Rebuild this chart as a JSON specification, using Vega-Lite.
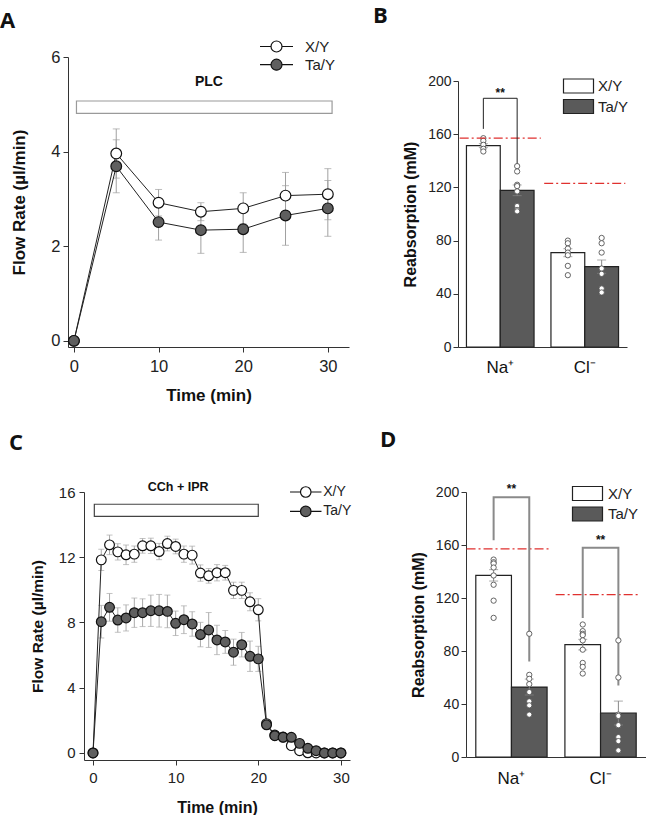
{
"$schema": "https://vega.github.io/schema/vega-lite/v6.json",
"background": "white",
"padding": {"left": 0, "top": 5, "right": 0, "bottom": 0},
"config": {
  "view": {"stroke": null},
  "font": "Liberation Sans",
  "axis": {"grid": false, "domainColor": "#333", "tickColor": "#333", "labelColor": "#222", "titleColor": "#111", "labelFont": "Liberation Sans", "titleFont": "Liberation Sans", "titleFontWeight": "bold", "tickSize": 5},
  "title": {"font": "Open Sans", "fontSize": 22, "fontWeight": "bold", "color": "#111", "anchor": "start", "frame": "group"},
  "legend": {"labelFont": "Liberation Sans", "labelColor": "#222", "padding": 0, "symbolOpacity": 1}
},
"datasets": {
  "aSeries": [
    {"group":"X/Y","t":0,"v":0,"err":0},{"group":"X/Y","t":5,"v":3.96,"err":0.52},{"group":"X/Y","t":10,"v":2.92,"err":0.28},{"group":"X/Y","t":15,"v":2.73,"err":0.19},{"group":"X/Y","t":20,"v":2.8,"err":0.33},{"group":"X/Y","t":25,"v":3.07,"err":0.49},{"group":"X/Y","t":30,"v":3.1,"err":0.54},
    {"group":"Ta/Y","t":0,"v":0,"err":0},{"group":"Ta/Y","t":5,"v":3.69,"err":0.56},{"group":"Ta/Y","t":10,"v":2.51,"err":0.38},{"group":"Ta/Y","t":15,"v":2.34,"err":0.49},{"group":"Ta/Y","t":20,"v":2.36,"err":0.49},{"group":"Ta/Y","t":25,"v":2.65,"err":0.63},{"group":"Ta/Y","t":30,"v":2.8,"err":0.59}
  ],
  "aBox": [{"t":0.3,"t2":30.5,"v":4.81,"v2":5.07}],
  "aLabel": [{"t":15.95,"v":5.47,"label":"PLC"}],
  "cSeries": [
    {"group":"X/Y","t":0,"v":0,"err":0},{"group":"X/Y","t":1,"v":11.84,"err":0.65},{"group":"X/Y","t":2,"v":12.76,"err":0.6},{"group":"X/Y","t":3,"v":12.33,"err":0.5},{"group":"X/Y","t":4,"v":12.15,"err":0.6},{"group":"X/Y","t":5,"v":12.19,"err":0.5},{"group":"X/Y","t":6,"v":12.7,"err":0.45},{"group":"X/Y","t":7,"v":12.7,"err":0.47},{"group":"X/Y","t":8,"v":12.35,"err":0.5},{"group":"X/Y","t":9,"v":12.84,"err":0.45},{"group":"X/Y","t":10,"v":12.66,"err":0.45},{"group":"X/Y","t":11,"v":12.19,"err":0.5},{"group":"X/Y","t":12,"v":12.13,"err":0.55},{"group":"X/Y","t":13,"v":11.03,"err":0.5},{"group":"X/Y","t":14,"v":10.86,"err":0.45},{"group":"X/Y","t":15,"v":11.05,"err":0.5},{"group":"X/Y","t":16,"v":11.05,"err":0.45},{"group":"X/Y","t":17,"v":9.97,"err":0.5},{"group":"X/Y","t":18,"v":9.97,"err":0.5},{"group":"X/Y","t":19,"v":9.27,"err":0.55},{"group":"X/Y","t":20,"v":8.78,"err":0.68},{"group":"X/Y","t":21,"v":1.8,"err":0.2},{"group":"X/Y","t":22,"v":1.1,"err":0.15},{"group":"X/Y","t":23,"v":0.98,"err":0.15},{"group":"X/Y","t":24,"v":0.45,"err":0.1},{"group":"X/Y","t":25,"v":0.14,"err":0.05},{"group":"X/Y","t":26,"v":0.01,"err":0},{"group":"X/Y","t":27,"v":0,"err":0},{"group":"X/Y","t":28,"v":0,"err":0},{"group":"X/Y","t":29,"v":0,"err":0},{"group":"X/Y","t":30,"v":0,"err":0},
    {"group":"Ta/Y","t":0,"v":0,"err":0},{"group":"Ta/Y","t":1,"v":8.05,"err":1.0},{"group":"Ta/Y","t":2,"v":8.93,"err":0.85},{"group":"Ta/Y","t":3,"v":8.15,"err":0.75},{"group":"Ta/Y","t":4,"v":8.28,"err":0.8},{"group":"Ta/Y","t":5,"v":8.6,"err":0.9},{"group":"Ta/Y","t":6,"v":8.6,"err":0.85},{"group":"Ta/Y","t":7,"v":8.72,"err":0.96},{"group":"Ta/Y","t":8,"v":8.72,"err":1.0},{"group":"Ta/Y","t":9,"v":8.68,"err":1.0},{"group":"Ta/Y","t":10,"v":7.95,"err":0.75},{"group":"Ta/Y","t":11,"v":8.17,"err":0.85},{"group":"Ta/Y","t":12,"v":7.91,"err":0.75},{"group":"Ta/Y","t":13,"v":7.26,"err":0.75},{"group":"Ta/Y","t":14,"v":7.54,"err":1.07},{"group":"Ta/Y","t":15,"v":6.93,"err":0.9},{"group":"Ta/Y","t":16,"v":6.81,"err":0.7},{"group":"Ta/Y","t":17,"v":6.18,"err":0.8},{"group":"Ta/Y","t":18,"v":6.64,"err":0.75},{"group":"Ta/Y","t":19,"v":5.93,"err":0.93},{"group":"Ta/Y","t":20,"v":5.77,"err":0.77},{"group":"Ta/Y","t":21,"v":1.73,"err":0.2},{"group":"Ta/Y","t":22,"v":1.06,"err":0.2},{"group":"Ta/Y","t":23,"v":0.96,"err":0.15},{"group":"Ta/Y","t":24,"v":0.96,"err":0.15},{"group":"Ta/Y","t":25,"v":0.59,"err":0.2},{"group":"Ta/Y","t":26,"v":0.29,"err":0.15},{"group":"Ta/Y","t":27,"v":0.14,"err":0.1},{"group":"Ta/Y","t":28,"v":0,"err":0},{"group":"Ta/Y","t":29,"v":0,"err":0},{"group":"Ta/Y","t":30,"v":0,"err":0}
  ],
  "cBox": [{"t":0.16,"t2":20,"v":14.51,"v2":15.25}],
  "cLabel": [{"t":10.3,"v":16.3,"label":"CCh + IPR"}],
  "bBars": [
    {"ion":"Na⁺","group":"X/Y","v":151.4,"err":1.5},{"ion":"Na⁺","group":"Ta/Y","v":117.8,"err":4},
    {"ion":"Cl⁻","group":"X/Y","v":70.9,"err":3},{"ion":"Cl⁻","group":"Ta/Y","v":60.4,"err":5}
  ],
  "bDots": [
    {"ion":"Na⁺","group":"X/Y","v":157},{"ion":"Na⁺","group":"X/Y","v":155},{"ion":"Na⁺","group":"X/Y","v":152},{"ion":"Na⁺","group":"X/Y","v":149},{"ion":"Na⁺","group":"X/Y","v":147},
    {"ion":"Na⁺","group":"Ta/Y","v":136},{"ion":"Na⁺","group":"Ta/Y","v":132},{"ion":"Na⁺","group":"Ta/Y","v":122},{"ion":"Na⁺","group":"Ta/Y","v":121},{"ion":"Na⁺","group":"Ta/Y","v":117},{"ion":"Na⁺","group":"Ta/Y","v":106},{"ion":"Na⁺","group":"Ta/Y","v":103},{"ion":"Na⁺","group":"Ta/Y","v":102},
    {"ion":"Cl⁻","group":"X/Y","v":80},{"ion":"Cl⁻","group":"X/Y","v":78},{"ion":"Cl⁻","group":"X/Y","v":74},{"ion":"Cl⁻","group":"X/Y","v":71},{"ion":"Cl⁻","group":"X/Y","v":69},{"ion":"Cl⁻","group":"X/Y","v":61},{"ion":"Cl⁻","group":"X/Y","v":54},
    {"ion":"Cl⁻","group":"Ta/Y","v":82},{"ion":"Cl⁻","group":"Ta/Y","v":78},{"ion":"Cl⁻","group":"Ta/Y","v":71},{"ion":"Cl⁻","group":"Ta/Y","v":59},{"ion":"Cl⁻","group":"Ta/Y","v":55},{"ion":"Cl⁻","group":"Ta/Y","v":44},{"ion":"Cl⁻","group":"Ta/Y","v":41}
  ],
  "bPlasma": [{"ion":"Na⁺","v":157},{"ion":"Cl⁻","v":123}],
  "bBracket": [
    {"ion":"Na⁺","group":"X/Y","v":164,"k":1},{"ion":"Na⁺","group":"X/Y","v":187,"k":2},{"ion":"Na⁺","group":"Ta/Y","v":187,"k":3},{"ion":"Na⁺","group":"Ta/Y","v":138,"k":4}
  ],
  "bSig": [{"ion":"Na⁺","v":191,"label":"**"}],
  "dBars": [
    {"ion":"Na⁺","group":"X/Y","v":137.1,"err":4.3},{"ion":"Na⁺","group":"Ta/Y","v":52.8,"err":6},
    {"ion":"Cl⁻","group":"X/Y","v":84.8,"err":4},{"ion":"Cl⁻","group":"Ta/Y","v":33.2,"err":9}
  ],
  "dDots": [
    {"ion":"Na⁺","group":"X/Y","v":149},{"ion":"Na⁺","group":"X/Y","v":147},{"ion":"Na⁺","group":"X/Y","v":146},{"ion":"Na⁺","group":"X/Y","v":143},{"ion":"Na⁺","group":"X/Y","v":137},{"ion":"Na⁺","group":"X/Y","v":130},{"ion":"Na⁺","group":"X/Y","v":118},{"ion":"Na⁺","group":"X/Y","v":105},
    {"ion":"Na⁺","group":"Ta/Y","v":93},{"ion":"Na⁺","group":"Ta/Y","v":62},{"ion":"Na⁺","group":"Ta/Y","v":59},{"ion":"Na⁺","group":"Ta/Y","v":55},{"ion":"Na⁺","group":"Ta/Y","v":49},{"ion":"Na⁺","group":"Ta/Y","v":42},{"ion":"Na⁺","group":"Ta/Y","v":39},{"ion":"Na⁺","group":"Ta/Y","v":32},
    {"ion":"Cl⁻","group":"X/Y","v":100},{"ion":"Cl⁻","group":"X/Y","v":95},{"ion":"Cl⁻","group":"X/Y","v":93},{"ion":"Cl⁻","group":"X/Y","v":92},{"ion":"Cl⁻","group":"X/Y","v":88},{"ion":"Cl⁻","group":"X/Y","v":81},{"ion":"Cl⁻","group":"X/Y","v":71},{"ion":"Cl⁻","group":"X/Y","v":68},{"ion":"Cl⁻","group":"X/Y","v":63},
    {"ion":"Cl⁻","group":"Ta/Y","v":88},{"ion":"Cl⁻","group":"Ta/Y","v":60},{"ion":"Cl⁻","group":"Ta/Y","v":32},{"ion":"Cl⁻","group":"Ta/Y","v":31},{"ion":"Cl⁻","group":"Ta/Y","v":24},{"ion":"Cl⁻","group":"Ta/Y","v":15},{"ion":"Cl⁻","group":"Ta/Y","v":12},{"ion":"Cl⁻","group":"Ta/Y","v":5}
  ],
  "dPlasma": [{"ion":"Na⁺","v":157},{"ion":"Cl⁻","v":122.5}],
  "dBracket": [
    {"ion":"Na⁺","group":"X/Y","v":163.5,"k":1},{"ion":"Na⁺","group":"X/Y","v":196,"k":2},{"ion":"Na⁺","group":"Ta/Y","v":196,"k":3},{"ion":"Na⁺","group":"Ta/Y","v":72,"k":4},
    {"ion":"Cl⁻","group":"X/Y","v":105,"k":1},{"ion":"Cl⁻","group":"X/Y","v":158,"k":2},{"ion":"Cl⁻","group":"Ta/Y","v":158,"k":3},{"ion":"Cl⁻","group":"Ta/Y","v":54,"k":4}
  ],
  "dSig": [{"ion":"Na⁺","v":202,"label":"**"},{"ion":"Cl⁻","v":164,"label":"**"}]
},
"spacing": 25,
"resolve": {"scale": {"x":"independent","y":"independent","fill":"independent","xOffset":"independent"}, "legend": {"fill":"independent"}},
"vconcat": [
 {
  "spacing": 24,
  "resolve": {"scale": {"x":"independent","y":"independent","fill":"independent","xOffset":"independent"}, "legend": {"fill":"independent"}},
  "hconcat": [
   {
    "width": 281, "height": 290,
    "title": {"text": "A", "dx": -68, "offset": 6},
    "encoding": {
      "x": {"field":"t","type":"quantitative","scale":{"domain":[-0.7,32.5],"nice":false,"zero":false},"axis":{"values":[0,10,20,30],"title":"Time (min)","labelFontSize":16.5,"titleFontSize":17,"labelPadding":6,"titlePadding":13}},
      "y": {"field":"v","type":"quantitative","scale":{"domain":[-0.13,6],"nice":false,"zero":false},"axis":{"values":[0,2,4,6],"title":"Flow Rate (µl/min)","labelFontSize":16.5,"titleFontSize":17,"labelPadding":3,"titlePadding":22}}
    },
    "layer": [
      {"data":{"name":"aBox"},"mark":{"type":"rect","fill":"white","stroke":"#9a9a9a","strokeWidth":1.2},"encoding":{"x2":{"field":"t2"},"y2":{"field":"v2"}}},
      {"data":{"name":"aLabel"},"mark":{"type":"text","fontSize":14,"fontWeight":"bold","font":"Liberation Sans","baseline":"middle","align":"center","color":"#111"},"encoding":{"text":{"field":"label"}}},
      {"data":{"name":"aSeries"},"mark":{"type":"errorbar","color":"#a0a0a0","thickness":1,"ticks":{"size":7,"color":"#a0a0a0"}},"encoding":{"yError":{"field":"err"}}},
      {"data":{"name":"aSeries"},"mark":{"type":"line","color":"#222","strokeWidth":1},"encoding":{"detail":{"field":"group"}}},
      {"data":{"name":"aSeries"},"mark":{"type":"point","shape":"circle","filled":true,"size":115,"stroke":"#111","strokeWidth":1.2,"opacity":1},
       "encoding":{"fill":{"field":"group","type":"nominal","scale":{"domain":["X/Y","Ta/Y"],"range":["white","#5f5f5f"]},
         "legend":{"orient":"none","legendX":201,"legendY":-18,"title":null,"symbolType":"M-3,0H-1M1,0H3M-1,0A1,1,0,1,0,1,0A1,1,0,1,0,-1,0","symbolSize":121,"symbolStrokeColor":"#111","symbolStrokeWidth":1.2,"labelFontSize":15,"labelOffset":21,"rowPadding":1.2}}}}
    ]
   },
   {
    "bounds": "flush",
    "spacing": 23,
    "resolve": {"scale": {"x":"independent","y":"independent","fill":"independent","xOffset":"independent"}, "legend": {"fill":"independent"}},
    "vconcat": [
     {"width": 1, "height": 1, "data": {"values": []}, "mark": {"type": "point", "opacity": 0}},
     {
      "width": 169, "height": 266,
      "title": {"text": "B", "dx": -85, "offset": 46},
      "encoding": {
        "x": {"field":"ion","type":"nominal","sort":["Na⁺","Cl⁻"],"scale":{"paddingInner":0.2,"paddingOuter":0.1},"axis":{"title":null,"labelAngle":0,"ticks":false,"tickSize":0,"labelFontSize":17,"labelPadding":12,"labelColor":"#111"}},
        "y": {"field":"v","type":"quantitative","scale":{"domain":[0,200],"nice":false},"axis":{"values":[0,40,80,120,160,200],"title":"Reabsorption (mM)","titleFontSize":16,"labelFontSize":14,"labelPadding":2,"titlePadding":9}}
      },
      "layer": [
        {"data":{"name":"bBars"},"mark":{"type":"bar","stroke":"#222","strokeWidth":1.2},
         "encoding":{"xOffset":{"field":"group","type":"nominal","sort":["X/Y","Ta/Y"],"scale":{"paddingInner":0,"paddingOuter":0}},
           "fill":{"field":"group","type":"nominal","scale":{"domain":["X/Y","Ta/Y"],"range":["white","#5a5a5a"]},
             "legend":{"orient":"none","legendX":113,"legendY":-2.5,"title":null,"symbolType":"M-3,-1.4H3V1.4H-3Z","symbolSize":100,"symbolStrokeColor":"#222","symbolStrokeWidth":1.2,"labelFontSize":15,"labelOffset":12,"rowPadding":1.5}}}},
        {"data":{"name":"bBars"},"mark":{"type":"errorbar","color":"#888","thickness":1,"ticks":{"size":9,"color":"#888"}},
         "encoding":{"xOffset":{"field":"group","type":"nominal","sort":["X/Y","Ta/Y"],"scale":{"paddingInner":0,"paddingOuter":0}},"yError":{"field":"err"}}},
        {"data":{"name":"bDots"},"mark":{"type":"point","shape":"circle","filled":true,"fill":"white","stroke":"#555","strokeWidth":0.9,"size":28,"opacity":1},
         "encoding":{"xOffset":{"field":"group","type":"nominal","sort":["X/Y","Ta/Y"],"scale":{"paddingInner":0,"paddingOuter":0}}}},
        {"data":{"name":"bPlasma"},"mark":{"type":"rule","color":"#e0312f","strokeDash":[9,3,2,3],"strokeWidth":1.3},
         "encoding":{"x":{"field":"ion","type":"nominal","sort":["Na⁺","Cl⁻"],"bandPosition":-0.1},"x2":{"field":"ion","bandPosition":1.1}}},
        {"data":{"name":"bBracket"},"mark":{"type":"line","color":"#222","strokeWidth":1},
         "encoding":{"xOffset":{"field":"group","type":"nominal","sort":["X/Y","Ta/Y"],"scale":{"paddingInner":0,"paddingOuter":0}},"order":{"field":"k"},"detail":{"field":"ion"}}},
        {"data":{"name":"bSig"},"mark":{"type":"text","fontSize":12,"fontWeight":"bold","baseline":"middle","align":"center","color":"#111"},"encoding":{"text":{"field":"label"}}}
      ]
     }
    ]
   }
  ]
 },
 {
  "spacing": 28,
  "resolve": {"scale": {"x":"independent","y":"independent","fill":"independent","xOffset":"independent"}, "legend": {"fill":"independent"}},
  "hconcat": [
   {
    "bounds": "flush",
    "spacing": 15,
    "resolve": {"scale": {"x":"independent","y":"independent","fill":"independent","xOffset":"independent"}, "legend": {"fill":"independent"}},
    "hconcat": [
     {"width": 1, "height": 1, "data": {"values": []}, "mark": {"type": "point", "opacity": 0}},
     {
      "width": 266, "height": 268,
      "title": {"text": "C", "dx": -75, "offset": 26},
      "encoding": {
        "x": {"field":"t","type":"quantitative","scale":{"domain":[-1.09,31.1],"nice":false,"zero":false},"axis":{"values":[0,10,20,30],"title":"Time (min)","labelFontSize":15,"titleFontSize":16,"labelPadding":5,"titlePadding":14}},
        "y": {"field":"v","type":"quantitative","scale":{"domain":[-0.43,16],"nice":false,"zero":false},"axis":{"values":[0,4,8,12,16],"title":"Flow Rate (µl/min)","labelFontSize":15,"titleFontSize":15.5,"labelPadding":4,"titlePadding":13}}
      },
      "layer": [
        {"data":{"name":"cBox"},"mark":{"type":"rect","fill":"white","stroke":"#444","strokeWidth":1.2},"encoding":{"x2":{"field":"t2"},"y2":{"field":"v2"}}},
        {"data":{"name":"cLabel"},"mark":{"type":"text","fontSize":12.5,"fontWeight":"bold","font":"Liberation Sans","baseline":"middle","align":"center","color":"#111"},"encoding":{"text":{"field":"label"}}},
        {"data":{"name":"cSeries"},"mark":{"type":"errorbar","color":"#aaa","thickness":1,"ticks":{"size":6,"color":"#aaa"}},"encoding":{"yError":{"field":"err"}}},
        {"data":{"name":"cSeries"},"mark":{"type":"line","color":"#222","strokeWidth":1},"encoding":{"detail":{"field":"group"}}},
        {"data":{"name":"cSeries"},"mark":{"type":"point","shape":"circle","filled":true,"size":95,"stroke":"#111","strokeWidth":1.2,"opacity":1},
         "encoding":{"fill":{"field":"group","type":"nominal","scale":{"domain":["X/Y","Ta/Y"],"range":["white","#5f5f5f"]},
           "legend":{"orient":"none","legendX":214.75,"legendY":-7,"title":null,"symbolType":"M-3,0H-1M1,0H3M-1,0A1,1,0,1,0,1,0A1,1,0,1,0,-1,0","symbolSize":110,"symbolStrokeColor":"#111","symbolStrokeWidth":1.2,"labelFontSize":14,"labelOffset":10.5,"rowPadding":3.4}}}}
      ]
     }
    ]
   },
   {
    "width": 180, "height": 265,
    "title": {"text": "D", "dx": -86, "offset": 31},
    "encoding": {
      "x": {"field":"ion","type":"nominal","sort":["Na⁺","Cl⁻"],"scale":{"paddingInner":0.2,"paddingOuter":0.11},"axis":{"title":null,"labelAngle":0,"ticks":false,"tickSize":0,"labelFontSize":17,"labelPadding":13,"labelColor":"#111"}},
      "y": {"field":"v","type":"quantitative","scale":{"domain":[0,200],"nice":false},"axis":{"values":[0,40,80,120,160,200],"title":"Reabsorption (mM)","titleFontSize":16,"labelFontSize":14,"labelPadding":2.3,"titlePadding":9}}
    },
    "layer": [
      {"data":{"name":"dBars"},"mark":{"type":"bar","stroke":"#222","strokeWidth":1.2},
       "encoding":{"xOffset":{"field":"group","type":"nominal","sort":["X/Y","Ta/Y"],"scale":{"paddingInner":0,"paddingOuter":0}},
         "fill":{"field":"group","type":"nominal","scale":{"domain":["X/Y","Ta/Y"],"range":["white","#5a5a5a"]},
           "legend":{"orient":"none","legendX":114,"legendY":-6,"title":null,"symbolType":"M-3,-1.4H3V1.4H-3Z","symbolSize":100,"symbolStrokeColor":"#222","symbolStrokeWidth":1.2,"labelFontSize":15,"labelOffset":13,"rowPadding":1.5}}}},
      {"data":{"name":"dBars"},"mark":{"type":"errorbar","color":"#888","thickness":1,"ticks":{"size":9,"color":"#888"}},
       "encoding":{"xOffset":{"field":"group","type":"nominal","sort":["X/Y","Ta/Y"],"scale":{"paddingInner":0,"paddingOuter":0}},"yError":{"field":"err"}}},
      {"data":{"name":"dPlasma"},"mark":{"type":"rule","color":"#e0312f","strokeDash":[9,3,2,3],"strokeWidth":1.3},
       "encoding":{"x":{"field":"ion","type":"nominal","sort":["Na⁺","Cl⁻"],"bandPosition":-0.13},"x2":{"field":"ion","bandPosition":1.04}}},
      {"data":{"name":"dBracket"},"mark":{"type":"line","color":"#8a8a8a","strokeWidth":2},
       "encoding":{"xOffset":{"field":"group","type":"nominal","sort":["X/Y","Ta/Y"],"scale":{"paddingInner":0,"paddingOuter":0}},"order":{"field":"k"},"detail":{"field":"ion"}}},
      {"data":{"name":"dDots"},"mark":{"type":"point","shape":"circle","filled":true,"fill":"white","stroke":"#555","strokeWidth":0.9,"size":28,"opacity":1},
       "encoding":{"xOffset":{"field":"group","type":"nominal","sort":["X/Y","Ta/Y"],"scale":{"paddingInner":0,"paddingOuter":0}}}},
      {"data":{"name":"dSig"},"mark":{"type":"text","fontSize":12,"fontWeight":"bold","baseline":"middle","align":"center","color":"#111"},"encoding":{"text":{"field":"label"}}}
    ]
   }
  ]
 }
]
}
